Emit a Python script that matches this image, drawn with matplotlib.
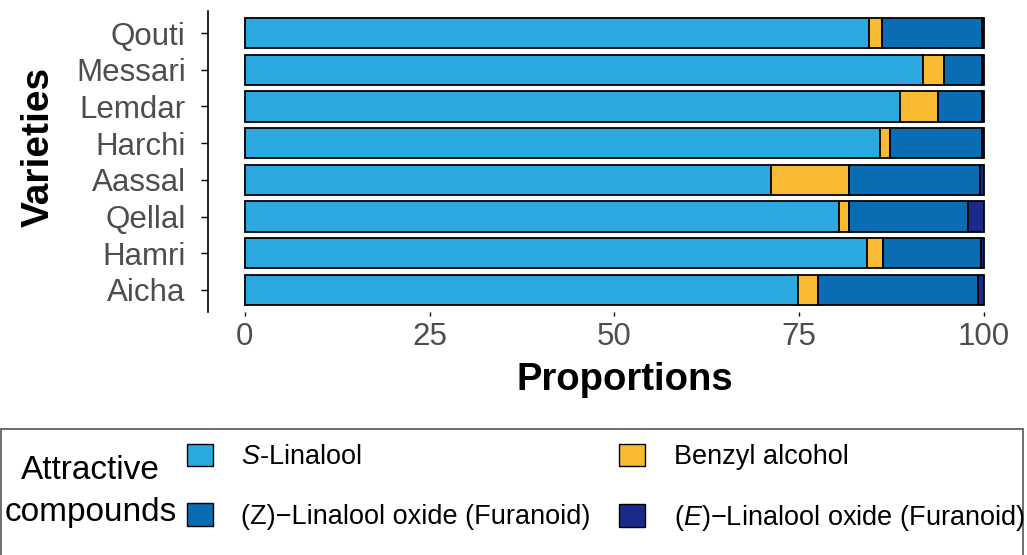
import matplotlib.pyplot as plt
import matplotlib.patches as mpatches
import numpy as np

plt.rcParams['font.family'] = ['Liberation Sans', 'DejaVu Sans']
plt.rcParams['mathtext.fontset'] = 'custom'
plt.rcParams['mathtext.it'] = 'Liberation Sans:italic'
plt.rcParams['mathtext.rm'] = 'Liberation Sans'

varieties = ['Aicha', 'Hamri', 'Qellal', 'Aassal', 'Harchi', 'Lemdar', 'Messari', 'Qouti']

# proportions (%) per compound, same order as varieties
s_linalool = [74.8, 84.2, 80.4, 71.2, 86.0, 88.6, 91.7, 84.4]
benzyl_alcohol = [2.7, 2.2, 1.3, 10.6, 1.3, 5.2, 2.9, 1.8]
z_oxide = [21.7, 13.2, 16.2, 17.7, 12.5, 5.9, 5.1, 13.5]
e_oxide = [0.8, 0.4, 2.1, 0.5, 0.2, 0.3, 0.3, 0.3]

compounds = ['$\\it{S}$-Linalool', '(Z)\u2212Linalool oxide (Furanoid)',
             'Benzyl alcohol', '($\\it{E}$)\u2212Linalool oxide (Furanoid)']
colors = ['#2CA8E0', '#0A6DB3', '#F8B933', '#1B2A8A']
series = [s_linalool, z_oxide, benzyl_alcohol, e_oxide]
# stacking order left to right
stack = [0, 2, 1, 3]

fig = plt.figure(figsize=(10.27, 5.55), dpi=100)
ax = fig.add_axes([0.2025, 0.438, 0.7915, 0.542])

y = np.arange(len(varieties))
left = np.zeros(len(varieties))
for i in stack:
    vals = np.array(series[i])
    ax.barh(y, vals, left=left, height=0.82, color=colors[i],
            edgecolor='black', linewidth=1.3)
    left += vals

ax.set_xlim(-5, 105)
ax.set_ylim(-0.6, len(varieties) - 0.4)
ax.set_yticks(y)
ax.set_yticklabels(varieties)
ax.set_xticks([0, 25, 50, 75, 100])
for sp in ['top', 'right', 'bottom']:
    ax.spines[sp].set_visible(False)
ax.spines['left'].set_linewidth(1.2)
ax.tick_params(axis='both', labelsize=22.5, labelcolor='#4D4D4D', width=1.0)
ax.tick_params(axis='y', length=5, pad=11)
ax.tick_params(axis='x', length=3, pad=4)
ax.set_xlabel('Proportions', fontsize=27.5, fontweight='bold')
ax.set_ylabel('Varieties', fontsize=28, fontweight='bold')
ax.xaxis.set_label_coords(0.513, -0.165)
ax.yaxis.set_label_coords(-0.186, 0.548)

# legend frame along the bottom
fig.patches.append(mpatches.Rectangle((0.001, -0.02), 0.995, 0.247, transform=fig.transFigure,
                                      fill=False, edgecolor='#555555', linewidth=1.2))
fig.text(0.088, 0.114, 'Attractive\ncompounds', ha='center', va='center',
         fontsize=24, linespacing=1.45)
handles = [mpatches.Patch(facecolor=colors[i], edgecolor='black', linewidth=1.0)
           for i in range(4)]
fig.legend(handles, compounds, ncol=2, loc='center left', bbox_to_anchor=(0.182, 0.120),
           frameon=False, fontsize=19.5, handlelength=0.96, handleheight=0.9,
           handletextpad=1.04, columnspacing=1.07, labelspacing=1.21,
           borderpad=0, borderaxespad=0)

fig.savefig('out.png', dpi=100)
